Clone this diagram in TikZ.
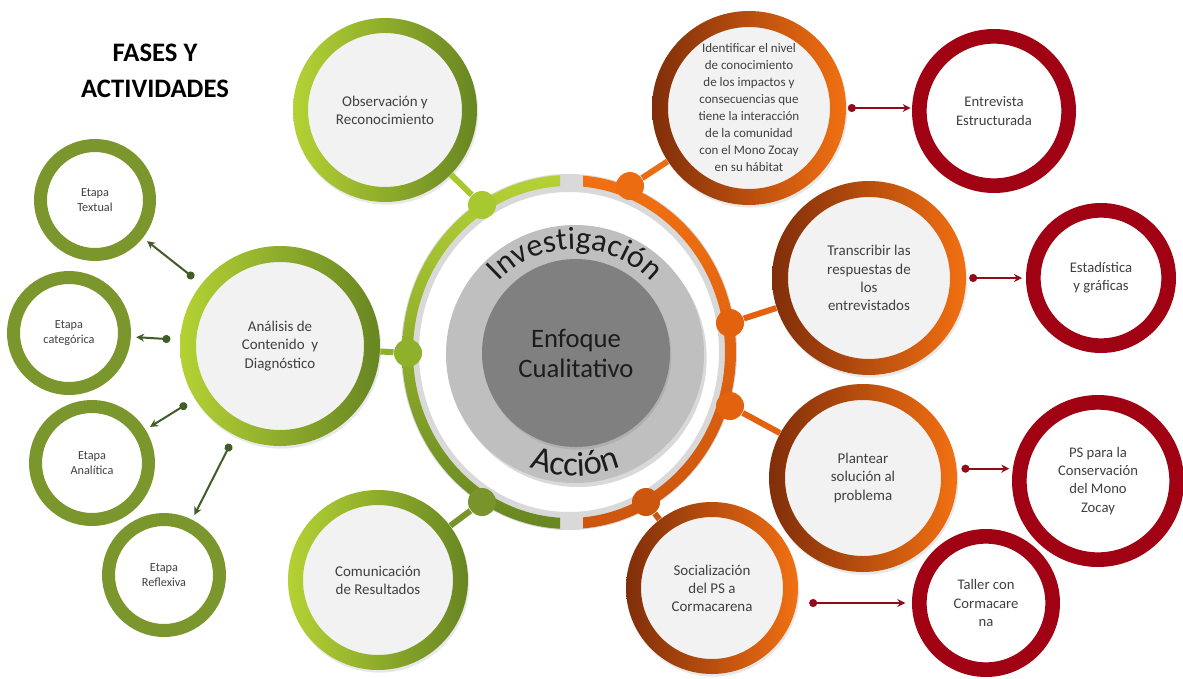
\documentclass[tikz,border=0pt]{standalone}
\usepackage{fontspec}
\setmainfont{Carlito}
\usetikzlibrary{arrows.meta,decorations.text,shadows}

\definecolor{cfill}{RGB}{242,242,242}
\definecolor{ctext}{RGB}{64,64,64}
\definecolor{clime}{RGB}{180,210,52}
\definecolor{cmidg}{RGB}{156,188,44}
\definecolor{cmoss}{RGB}{104,134,34}
\definecolor{cbrown}{RGB}{128,46,10}
\definecolor{cmido}{RGB}{222,96,14}
\definecolor{corange}{RGB}{242,112,18}
\definecolor{cred}{RGB}{160,2,20}
\definecolor{colive}{RGB}{122,150,44}
\definecolor{cgarrow}{RGB}{66,92,40}
\definecolor{crarrow}{RGB}{145,12,24}
\definecolor{cband}{RGB}{217,217,217}
\definecolor{cdisk}{RGB}{191,191,191}
\definecolor{ccore}{RGB}{128,128,128}
\definecolor{cword}{RGB}{28,28,28}
\definecolor{cdotA}{RGB}{168,200,48}
\definecolor{cdotB}{RGB}{142,176,42}
\definecolor{cdotC}{RGB}{120,148,42}
\definecolor{cdotD}{RGB}{236,108,18}
\definecolor{cdotE}{RGB}{226,98,14}
\definecolor{cdotF}{RGB}{204,86,14}

\tikzset{every picture/.style={line width=0.75pt}}
\tikzset{
  phase/.style={circle, fill=cfill, inner sep=0pt, align=center, text=ctext, font=\fontsize{11.2}{13.6}\selectfont, drop shadow={opacity=0.18, shadow xshift=1pt, shadow yshift=-2pt}},
  result/.style={circle, draw=cred, line width=11pt, fill=white, inner sep=0pt, align=center, text=ctext, font=\fontsize{11}{13.6}\selectfont},
  stage/.style={circle, draw=colive, line width=9.75pt, fill=white, inner sep=0pt, align=center, text=ctext, font=\fontsize{9.2}{10.8}\selectfont},
  joint/.style={circle, inner sep=0pt, minimum size=21pt},
  link/.style={line width=4.5pt},
  garrow/.style={{Circle[length=6pt]}-{Stealth[length=6pt,width=6pt]}, line width=1.5pt, draw=cgarrow, shorten <=7pt, shorten >=4pt},
  rarrow/.style={{Circle[length=6pt]}-{Stealth[length=6pt,width=6pt]}, line width=1.5pt, draw=crarrow}
}

\begin{document}
\begin{tikzpicture}[x=0.75pt,y=0.75pt,yscale=-1,xscale=1]
\useasboundingbox (0,0) rectangle (1183,679);

% Title
\node [font=\bfseries\fontsize{20}{27.5}\selectfont, align=center, text=black] (title) at (155,71) {FASES Y\\ACTIVIDADES};

%Shape: Ring base
\coordinate (c) at (569,352);
\draw [line width=13.5pt, cband] (c) ellipse [x radius=159, y radius=169];
%Shape: Ring left half
\begin{scope}
\clip (0,0) rectangle (560,679);
\shade [top color=clime, bottom color=cmoss, even odd rule] (c) ellipse [x radius=167, y radius=177] (c) ellipse [x radius=156, y radius=166];
\end{scope}
%Shape: Ring right half
\begin{scope}
\clip (583,0) rectangle (1183,679);
\shade [top color=corange, bottom color=cdotF, even odd rule] (c) ellipse [x radius=167, y radius=177] (c) ellipse [x radius=156, y radius=166];
\end{scope}

%Shape: Circle
\node [circle, fill=cdisk, minimum size=193.5pt, drop shadow={opacity=0.3, shadow xshift=2pt, shadow yshift=-3pt}] (inv) at (575,354) {};
\node [circle, fill=ccore, minimum size=141pt, align=center, text=cword, font=\fontsize{20}{22.5}\selectfont, drop shadow={opacity=0.25, shadow xshift=1pt, shadow yshift=-2pt}] (enf) at (576,353) {Enfoque\\Cualitativo};

% Text on arcs
\path [decorate, decoration={text along path, text align=center, text={|\fontsize{24}{24}\selectfont\color{cword}|Investigación}}] (inv.center) ++(-152:105) arc (-152:-28:105);
\path [decorate, decoration={text along path, text align=center, text={|\fontsize{26}{26}\selectfont\color{cword}|Acción}}] (inv.center) ++(118:122) arc (118:62:122);

%Shape: Joints
\node [joint, fill=cdotA] (d1) at (482,205) {};
\node [joint, fill=cdotB] (d2) at (408,353) {};
\node [joint, fill=cdotC] (d3) at (482,502) {};
\node [joint, fill=cdotD] (d4) at (630,186) {};
\node [joint, fill=cdotE] (d5) at (730,323) {};
\node [joint, fill=cdotE] (d6) at (730,406) {};
\node [joint, fill=cdotF] (d7) at (646,502) {};

%Shape: Phases
\node [phase, minimum size=138pt] (obs) at (385,110) {Observación y\\Reconocimiento};
\shade [left color=clime, middle color=cmidg, right color=cmoss, even odd rule] (obs.center) circle (92) circle (77);
\node [phase, minimum size=150pt] (ana) at (280,346) {Análisis de\\Contenido\ \ y\\Diagnóstico};
\shade [left color=clime, middle color=cmidg, right color=cmoss, even odd rule] (ana.center) circle (100) circle (84);
\node [phase, minimum size=135pt] (com) at (378,580) {Comunicación\\de Resultados};
\shade [left color=clime, middle color=cmidg, right color=cmoss, even odd rule] (com.center) circle (90) circle (75);
\node [phase, minimum size=145.5pt, font=\fontsize{9.75}{12.75}\selectfont] (idn) at (749,108) {Identificar el nivel\\de conocimiento\\de los impactos y\\consecuencias que\\tiene la interacción\\de la comunidad\\con el Mono Zocay\\en su hábitat};
\shade [left color=cbrown, middle color=cmido, right color=corange, even odd rule] (idn.center) circle (97) circle (81);
\node [phase, minimum size=145.5pt] (tra) at (869,278) {Transcribir las\\respuestas de\\los\\entrevistados};
\shade [left color=cbrown, middle color=cmido, right color=corange, even odd rule] (tra.center) circle (97) circle (81);
\node [phase, minimum size=141pt] (pla) at (863,478) {Plantear\\solución al\\problema};
\shade [left color=cbrown, middle color=cmido, right color=corange, even odd rule] (pla.center) circle (94) circle (78);
\node [phase, minimum size=129pt] (soc) at (712,588) {Socialización\\del PS a\\Cormacarena};
\shade [left color=cbrown, middle color=cmido, right color=corange, even odd rule] (soc.center) circle (86) circle (71);

%Shape: Results
\node [result, minimum size=112pt] (ent) at (994,111) {Entrevista\\Estructurada};
\node [result, minimum size=101.5pt] (est) at (1101,278) {Estadística\\y gráficas};
\node [result, minimum size=118pt] (psc) at (1098,481) {PS para la\\Conservación\\del Mono\\Zocay};
\node [result, minimum size=100pt] (tal) at (986,603) {Taller con\\Cormacare\\na};

%Shape: Stages
\node [stage, minimum size=81.75pt] (etT) at (95,200) {Etapa\\Textual};
\node [stage, minimum size=83.25pt] (etC) at (69,333) {Etapa\\categórica};
\node [stage, minimum size=84.75pt] (etA) at (92,463) {Etapa\\Analítica};
\node [stage, minimum size=83.25pt] (etR) at (164,575) {Etapa\\Reflexiva};

%Straight Lines
\draw [link, cdotA] (d1) -- (obs);
\draw [link, cdotB] (d2) -- (ana);
\draw [link, cdotC] (d3) -- (com);
\draw [link, cdotD] (d4) -- (idn);
\draw [link, cdotE] (d5) -- (tra);
\draw [link, cdotE] (d6) -- (pla);
\draw [link, cdotF] (d7) -- (soc);

%Arrows
\draw [garrow] (ana) -- (etT);
\draw [garrow] (ana) -- (etC);
\draw [garrow] (ana) -- (etA);
\draw [garrow] (ana) -- (etR);
\draw [rarrow, shorten <=1pt, shorten >=1pt] (idn.east) -- (idn.east -| ent.west);
\draw [rarrow, shorten <=2pt, shorten >=3pt] (tra.east) -- (tra.east -| est.west);
\coordinate (pl1) at ([yshift=-7pt]pla.east);
\draw [rarrow, shorten <=3pt, shorten >=2pt] (pl1) -- (pl1 -| psc.west);
\draw [rarrow, shorten <=8pt, shorten >=5pt] (tal.west -| soc.east) -- (tal.west);

\end{tikzpicture}
\end{document}
